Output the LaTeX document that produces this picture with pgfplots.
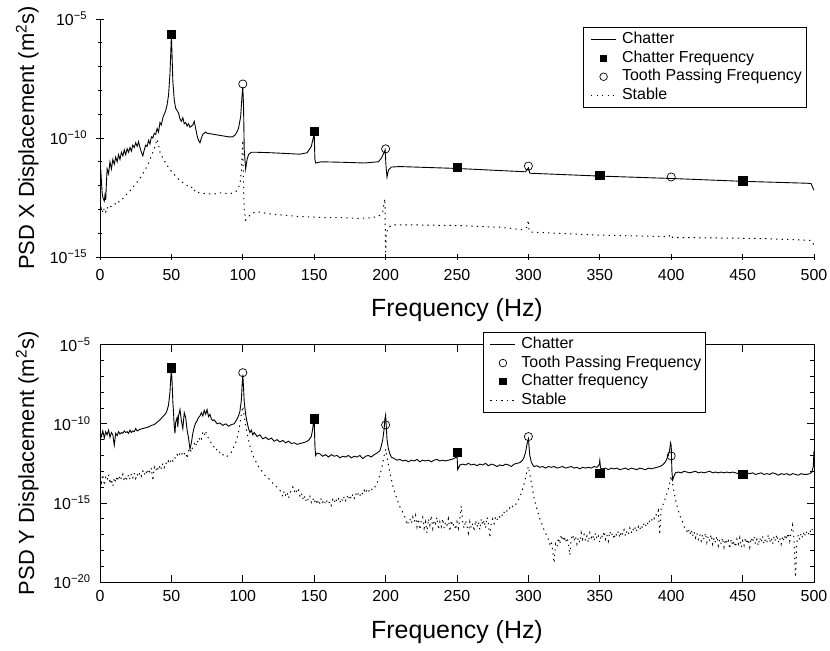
\documentclass[border=0pt]{standalone}
\usepackage{fontspec}
\setmainfont{Liberation Sans}
\usepackage{pgfplots}
\usepackage{pgfplotstable}
\pgfplotsset{compat=1.18}

% PSD values are stored as log10 of the spectral density (m^2 s)
% --- X direction, chatter ---
\pgfplotstableread[row sep=\\]{
f lg\\
0 -11.6\\ 0.5 -11.3\\ 1 -11.8\\ 1.5 -12.3\\ 2 -12.5\\ 3 -12.65\\ 3.5 -12.4\\ 4 -12.6\\ 4.5 -11.9\\ 5 -11.3\\
6 -11.5\\ 7 -11.0\\ 8 -11.3\\ 9 -10.9\\ 10 -11.1\\ 11 -10.8\\ 12 -11.0\\ 13 -10.7\\ 14 -10.9\\ 15 -10.6\\
16 -10.75\\ 17 -10.5\\ 18 -10.7\\ 19 -10.45\\ 20 -10.6\\ 21 -10.4\\ 22 -10.55\\ 23 -10.3\\ 24 -10.4\\ 25 -10.2\\
26 -10.35\\ 27 -10.15\\ 28 -10.4\\ 29 -10.6\\ 30 -10.75\\ 31 -10.5\\ 32 -10.3\\ 33 -10.35\\ 34 -10.1\\ 35 -10.25\\
36 -9.95\\ 37 -10.0\\ 38 -9.8\\ 39 -9.85\\ 40 -9.6\\ 41 -9.75\\ 42 -9.35\\ 43 -9.45\\ 44 -9.15\\ 45 -9.0\\
46 -8.85\\ 47 -8.6\\ 48 -8.2\\ 49 -7.3\\ 49.5 -6.5\\ 50 -5.7\\ 50.5 -6.6\\ 51 -7.6\\ 52 -8.4\\ 53 -8.75\\
54 -8.85\\ 55 -8.95\\ 56 -9.2\\ 57 -9.3\\ 58 -9.15\\ 59 -9.4\\ 60 -9.35\\ 61 -9.5\\ 62 -9.4\\ 63 -9.55\\
64 -9.5\\ 65 -9.45\\ 66 -9.3\\ 67 -9.6\\ 68 -9.9\\ 69 -10.1\\ 70 -10.2\\ 71 -10.0\\ 72 -9.85\\ 73 -9.8\\
74 -9.75\\ 75 -9.8\\ 80 -9.85\\ 85 -9.9\\ 90 -9.95\\ 93 -9.95\\ 95 -9.85\\ 97 -9.6\\ 98.5 -9.1\\ 99.5 -8.2\\
100 -7.85\\ 100.5 -8.6\\ 101 -10.5\\ 102 -11.3\\ 103 -10.9\\ 104 -10.7\\ 106 -10.6\\ 110 -10.6\\ 120 -10.62\\ 130 -10.65\\
140 -10.68\\ 145 -10.62\\ 148 -10.35\\ 149.5 -9.95\\ 150 -9.8\\ 150.5 -10.9\\ 151 -11.05\\ 155 -11.0\\ 170 -11.02\\ 185 -11.05\\
195 -11.0\\ 197 -10.85\\ 199 -10.6\\ 199.7 -10.5\\ 200.3 -11.2\\ 201 -11.65\\ 202 -11.35\\ 204 -11.22\\ 210 -11.2\\ 250 -11.28\\
298 -11.42\\ 300 -11.25\\ 301 -11.48\\ 350 -11.6\\ 400 -11.7\\ 450 -11.82\\ 495 -11.9\\ 498 -11.92\\ 500 -12.2\\
}\xchatter

% --- X direction, stable ---
\pgfplotstableread[row sep=\\]{
f lg\\
0 -13.2\\ 1 -12.9\\ 2 -13.15\\ 3 -12.95\\ 4 -13.1\\ 5 -12.9\\ 6 -13.0\\ 8 -12.85\\ 10 -12.75\\ 12 -12.8\\
14 -12.6\\ 16 -12.55\\ 18 -12.4\\ 20 -12.3\\ 22 -12.15\\ 24 -12.0\\ 26 -11.85\\ 28 -11.7\\ 30 -11.5\\ 32 -11.3\\
34 -11.05\\ 36 -10.75\\ 38 -10.45\\ 39 -10.25\\ 40 -10.05\\ 41 -10.3\\ 42 -10.6\\ 44 -10.85\\ 46 -11.05\\ 48 -11.25\\
50 -11.4\\ 53 -11.6\\ 56 -11.8\\ 60 -11.95\\ 63 -12.1\\ 65 -12.05\\ 67 -12.3\\ 70 -12.3\\ 75 -12.35\\ 80 -12.35\\
85 -12.3\\ 90 -12.35\\ 94 -12.3\\ 96 -12.2\\ 98 -11.95\\ 99 -11.4\\ 100 -10.1\\ 100.5 -12.0\\ 101 -13.0\\ 102 -13.45\\
104 -13.3\\ 107 -13.15\\ 110 -13.1\\ 120 -13.2\\ 130 -13.25\\ 140 -13.3\\ 150 -13.32\\ 160 -13.35\\ 170 -13.35\\ 180 -13.38\\
190 -13.35\\ 195 -13.3\\ 198 -13.1\\ 199.5 -12.55\\ 200 -14.8\\ 200.5 -14.0\\ 202 -13.75\\ 205 -13.65\\ 220 -13.65\\ 250 -13.68\\
280 -13.75\\ 295 -13.85\\ 299 -13.75\\ 300 -13.45\\ 300.5 -13.9\\ 302 -13.95\\ 320 -14.0\\ 350 -14.08\\ 380 -14.12\\ 398 -14.15\\
400 -14.05\\ 401 -14.18\\ 430 -14.2\\ 460 -14.22\\ 490 -14.28\\ 498 -14.3\\ 500 -14.5\\
}\xstable

% --- Y direction, chatter ---
\pgfplotstableread[row sep=\\]{
f lg\\
0 -10.5\\ 1 -10.8\\ 2 -10.45\\ 3 -10.9\\ 4 -10.5\\ 5 -10.7\\ 6 -10.4\\ 7 -10.85\\ 8 -10.55\\ 9 -10.7\\
10 -11.35\\ 11 -10.6\\ 12 -10.75\\ 13 -10.5\\ 14 -10.65\\ 15 -10.55\\ 16 -10.6\\ 17 -10.45\\ 18 -10.55\\ 19 -10.5\\
20 -10.6\\ 21 -10.4\\ 22 -10.55\\ 23 -10.45\\ 24 -10.5\\ 25 -10.3\\ 26 -10.45\\ 27 -10.4\\ 28 -10.35\\ 30 -10.3\\
32 -10.25\\ 34 -10.2\\ 36 -10.1\\ 38 -10.05\\ 40 -9.9\\ 42 -9.75\\ 44 -9.55\\ 46 -9.35\\ 47 -9.15\\ 48 -8.8\\
49 -8.0\\ 49.5 -7.2\\ 50 -6.55\\ 50.5 -7.4\\ 51 -8.6\\ 51.5 -9.3\\ 52 -10.2\\ 52.5 -10.6\\ 53 -9.9\\ 54 -9.6\\
54.5 -10.2\\ 55 -9.5\\ 56 -9.1\\ 57 -9.8\\ 58 -10.3\\ 59 -9.3\\ 60 -9.6\\ 61 -10.4\\ 62 -10.9\\ 63 -11.6\\
64 -11.2\\ 65 -10.6\\ 66 -10.2\\ 67 -9.95\\ 68 -9.8\\ 69 -9.6\\ 70 -9.5\\ 71 -9.3\\ 72 -9.5\\ 73 -9.15\\
74 -9.4\\ 75 -9.1\\ 76 -9.55\\ 77 -9.4\\ 78 -9.7\\ 79 -9.8\\ 80 -9.75\\ 82 -10.0\\ 84 -9.95\\ 86 -10.1\\
88 -10.0\\ 90 -10.15\\ 92 -10.05\\ 94 -10.0\\ 96 -9.7\\ 97 -9.5\\ 98 -9.2\\ 99 -8.5\\ 99.5 -7.6\\ 100 -6.9\\
100.5 -7.7\\ 101 -8.6\\ 102 -9.4\\ 103 -9.9\\ 104 -10.3\\ 105 -10.55\\ 106 -10.4\\ 107 -10.7\\ 108 -10.55\\ 110 -10.8\\
112 -10.7\\ 114 -10.95\\ 116 -10.85\\ 118 -11.0\\ 120 -10.9\\ 122 -11.1\\ 124 -11.0\\ 126 -11.15\\ 128 -11.05\\ 130 -11.2\\
132 -11.1\\ 134 -11.25\\ 136 -11.2\\ 138 -11.3\\ 140 -11.25\\ 142 -11.2\\ 144 -11.15\\ 146 -11.05\\ 148 -10.8\\ 149 -10.3\\
149.5 -9.9\\ 150 -9.7\\ 150.5 -11.4\\ 151 -12.0\\ 152 -11.85\\ 154 -11.9\\ 156 -12.05\\ 158 -11.95\\ 160 -12.1\\ 162 -11.95\\
164 -12.05\\ 166 -12.0\\ 168 -12.15\\ 170 -12.05\\ 172 -12.1\\ 174 -12.0\\ 176 -12.15\\ 178 -12.05\\ 180 -12.1\\ 182 -12.0\\
184 -12.2\\ 186 -12.05\\ 188 -12.0\\ 190 -12.1\\ 192 -11.95\\ 194 -11.85\\ 196 -11.7\\ 197 -11.4\\ 198 -11.0\\ 199 -10.3\\
199.5 -9.7\\ 200 -9.45\\ 200.5 -10.2\\ 201 -11.0\\ 202 -11.6\\ 203 -11.9\\ 204 -12.1\\ 206 -12.2\\ 208 -12.3\\ 210 -12.25\\
212 -12.35\\ 214 -12.3\\ 216 -12.4\\ 218 -12.3\\ 220 -12.35\\ 222 -12.25\\ 224 -12.4\\ 226 -12.3\\ 228 -12.35\\ 230 -12.3\\
232 -12.4\\ 234 -12.3\\ 236 -12.25\\ 238 -12.35\\ 240 -12.3\\ 242 -12.35\\ 244 -12.3\\ 246 -12.25\\ 248 -12.2\\ 249.5 -12.1\\
250 -11.95\\ 250.5 -12.9\\ 251 -12.8\\ 252 -12.6\\ 254 -12.55\\ 256 -12.6\\ 258 -12.5\\ 260 -12.6\\ 262 -12.55\\ 264 -12.65\\
266 -12.55\\ 268 -12.6\\ 270 -12.5\\ 272 -12.65\\ 274 -12.55\\ 276 -12.6\\ 278 -12.7\\ 280 -12.6\\ 282 -12.65\\ 284 -12.55\\
286 -12.6\\ 288 -12.7\\ 290 -12.55\\ 292 -12.5\\ 294 -12.45\\ 296 -12.3\\ 297 -12.1\\ 298 -11.8\\ 299 -11.3\\ 300 -10.95\\
300.5 -11.5\\ 301 -12.0\\ 302 -12.4\\ 303 -12.6\\ 304 -12.7\\ 306 -12.65\\ 308 -12.75\\ 310 -12.7\\ 312 -12.8\\ 314 -12.7\\
316 -12.75\\ 318 -12.7\\ 320 -12.8\\ 322 -12.75\\ 324 -12.7\\ 326 -12.8\\ 328 -12.75\\ 330 -12.7\\ 332 -12.8\\ 334 -12.75\\
336 -12.85\\ 338 -12.75\\ 340 -12.8\\ 342 -12.75\\ 344 -12.8\\ 346 -12.7\\ 348 -12.75\\ 349.5 -12.6\\ 350 -12.3\\ 350.5 -12.8\\
352 -12.85\\ 354 -12.8\\ 356 -12.9\\ 358 -12.8\\ 360 -12.85\\ 362 -12.8\\ 364 -12.9\\ 366 -12.85\\ 368 -12.8\\ 370 -12.9\\
372 -12.8\\ 374 -12.85\\ 376 -12.9\\ 378 -12.8\\ 380 -12.85\\ 382 -12.9\\ 384 -12.8\\ 386 -12.85\\ 388 -12.8\\ 390 -12.75\\
392 -12.7\\ 394 -12.6\\ 396 -12.4\\ 398 -12.0\\ 399 -11.6\\ 399.5 -11.2\\ 400 -11.35\\ 400.5 -13.0\\ 401 -13.55\\ 402 -13.3\\
403 -13.1\\ 405 -13.05\\ 407 -13.1\\ 409 -13.0\\ 411 -13.05\\ 413 -13.1\\ 415 -13.05\\ 417 -13.0\\ 419 -13.1\\ 421 -13.05\\
423 -13.1\\ 425 -13.05\\ 427 -13.0\\ 429 -13.1\\ 431 -13.05\\ 433 -13.1\\ 435 -13.05\\ 437 -13.1\\ 439 -13.05\\ 441 -13.1\\
443 -13.05\\ 445 -13.1\\ 447 -13.15\\ 449 -13.1\\ 451 -13.2\\ 453 -13.1\\ 455 -13.15\\ 457 -13.1\\ 459 -13.2\\ 461 -13.15\\
463 -13.1\\ 465 -13.2\\ 467 -13.15\\ 469 -13.2\\ 471 -13.1\\ 473 -13.15\\ 475 -13.25\\ 477 -13.15\\ 479 -13.2\\ 481 -13.15\\
483 -13.25\\ 485 -13.15\\ 487 -13.2\\ 489 -13.25\\ 491 -13.15\\ 493 -13.2\\ 495 -13.2\\ 497 -13.15\\ 498.5 -13.05\\ 499.5 -12.7\\
500 -11.7\\
}\ychatter

% --- Y direction, stable ---
\pgfplotstableread[row sep=\\]{
f lg\\
0 -13.3\\ 1 -13.7\\ 2 -13.2\\ 3 -13.9\\ 4 -13.4\\ 5 -13.6\\ 6 -13.2\\ 7 -13.8\\ 8 -13.5\\ 9 -13.95\\
10 -13.4\\ 11 -13.7\\ 12 -13.3\\ 13 -13.6\\ 14 -13.25\\ 15 -13.5\\ 16 -13.2\\ 17 -13.65\\ 18 -13.3\\ 19 -13.55\\
20 -13.2\\ 21 -13.5\\ 22 -13.15\\ 23 -13.4\\ 24 -13.1\\ 25 -13.45\\ 26 -13.15\\ 27 -13.35\\ 28 -13.05\\ 29 -13.3\\
30 -13.0\\ 31 -13.25\\ 32 -12.95\\ 33 -13.2\\ 34 -12.85\\ 35 -13.1\\ 36 -12.8\\ 37 -13.6\\ 38 -12.75\\ 39 -13.0\\
40 -12.7\\ 41 -12.95\\ 42 -12.6\\ 43 -12.85\\ 44 -12.5\\ 45 -12.75\\ 46 -12.45\\ 47 -12.6\\ 48 -12.35\\ 49 -12.5\\
50 -12.2\\ 51 -12.35\\ 52 -12.1\\ 53 -12.2\\ 54 -11.95\\ 55 -12.1\\ 56 -11.85\\ 57 -12.0\\ 58 -11.75\\ 59 -11.9\\
60 -11.8\\ 61 -12.2\\ 62 -11.7\\ 63 -11.55\\ 64 -11.8\\ 65 -11.4\\ 66 -11.25\\ 67 -11.45\\ 68 -11.05\\ 69 -11.2\\
70 -10.8\\ 71 -10.95\\ 72 -10.55\\ 73 -10.75\\ 74 -10.45\\ 75 -10.8\\ 76 -10.9\\ 77 -11.05\\ 78 -11.25\\ 79 -11.3\\
80 -11.5\\ 81 -11.45\\ 82 -11.7\\ 83 -11.65\\ 84 -11.85\\ 85 -11.8\\ 86 -11.95\\ 87 -12.0\\ 88 -11.95\\ 89 -12.05\\
90 -12.0\\ 91 -11.9\\ 92 -11.8\\ 93 -11.6\\ 94 -11.4\\ 95 -11.2\\ 96 -10.9\\ 97 -10.5\\ 98 -10.0\\ 99 -9.4\\
100 -8.9\\ 101 -9.5\\ 102 -10.1\\ 103 -10.6\\ 104 -11.0\\ 105 -11.4\\ 106 -11.7\\ 107 -11.95\\ 108 -12.2\\ 109 -12.35\\
110 -12.55\\ 111 -12.7\\ 112 -12.8\\ 113 -12.95\\ 114 -13.05\\ 115 -13.2\\ 116 -13.3\\ 117 -13.4\\ 118 -13.45\\ 119 -13.55\\
120 -13.65\\ 121 -13.75\\ 122 -13.8\\ 123 -13.95\\ 124 -14.0\\ 125 -14.1\\ 126 -14.2\\ 127 -14.35\\ 128 -14.6\\ 129 -14.25\\
130 -14.5\\ 131 -14.3\\ 132 -14.7\\ 133 -14.4\\ 134 -14.2\\ 135 -14.0\\ 136 -14.3\\ 137 -14.1\\ 138 -14.4\\ 139 -14.2\\
140 -14.55\\ 141 -14.35\\ 142 -14.75\\ 143 -14.5\\ 144 -14.9\\ 145 -14.65\\ 146 -14.85\\ 147 -14.6\\ 148 -14.95\\ 149 -14.7\\
150 -15.0\\ 151 -14.75\\ 152 -15.1\\ 153 -14.8\\ 154 -15.05\\ 155 -14.7\\ 156 -14.95\\ 157 -14.8\\ 158 -15.1\\ 159 -14.85\\
160 -15.05\\ 161 -14.9\\ 162 -15.15\\ 163 -14.8\\ 164 -15.0\\ 165 -14.7\\ 166 -14.95\\ 167 -14.75\\ 168 -15.0\\ 169 -14.7\\
170 -14.9\\ 171 -14.6\\ 172 -14.85\\ 173 -14.55\\ 174 -14.8\\ 175 -14.5\\ 176 -14.75\\ 177 -14.45\\ 178 -14.7\\ 179 -14.4\\
180 -14.6\\ 181 -14.35\\ 182 -14.55\\ 183 -14.3\\ 184 -14.45\\ 185 -14.2\\ 186 -14.4\\ 187 -14.15\\ 188 -14.3\\ 189 -14.1\\
190 -14.2\\ 191 -14.05\\ 192 -14.1\\ 193 -13.9\\ 194 -13.75\\ 195 -13.5\\ 196 -13.25\\ 197 -12.9\\ 198 -12.5\\ 199 -12.0\\
200 -11.6\\ 201 -12.1\\ 202 -12.6\\ 203 -13.1\\ 204 -13.5\\ 205 -13.9\\ 206 -14.2\\ 207 -14.5\\ 208 -14.75\\ 209 -15.0\\
210 -15.25\\ 211 -15.4\\ 212 -15.6\\ 213 -15.8\\ 214 -16.0\\ 215 -16.4\\ 216 -16.2\\ 217 -16.0\\ 218 -16.3\\ 219 -15.9\\
220 -16.2\\ 221 -15.8\\ 222 -16.5\\ 223 -16.0\\ 224 -16.7\\ 225 -16.1\\ 226 -15.9\\ 227 -16.6\\ 228 -16.2\\ 229 -16.9\\
230 -16.0\\ 231 -16.4\\ 232 -15.8\\ 233 -16.6\\ 234 -16.1\\ 235 -16.3\\ 236 -15.9\\ 237 -16.7\\ 238 -16.2\\ 239 -16.5\\
240 -16.0\\ 241 -16.6\\ 242 -16.2\\ 243 -16.4\\ 244 -16.0\\ 245 -16.8\\ 246 -16.1\\ 247 -16.5\\ 248 -16.3\\ 249 -16.7\\
250 -16.2\\ 251 -16.6\\ 252 -16.0\\ 253 -15.2\\ 254 -16.3\\ 255 -16.6\\ 256 -16.1\\ 257 -16.5\\ 258 -16.9\\ 259 -16.2\\
260 -16.6\\ 261 -16.3\\ 262 -16.8\\ 263 -16.1\\ 264 -16.5\\ 265 -16.2\\ 266 -16.7\\ 267 -16.0\\ 268 -16.4\\ 269 -16.1\\
270 -16.6\\ 271 -15.9\\ 272 -16.3\\ 273 -17.2\\ 274 -16.2\\ 275 -16.0\\ 276 -16.3\\ 277 -15.9\\ 278 -16.1\\ 279 -15.8\\
280 -15.9\\ 281 -15.7\\ 282 -15.85\\ 283 -15.6\\ 284 -15.7\\ 285 -15.5\\ 286 -15.55\\ 287 -15.3\\ 288 -15.4\\ 289 -15.2\\
290 -15.1\\ 291 -15.15\\ 292 -14.9\\ 293 -14.8\\ 294 -14.6\\ 295 -14.4\\ 296 -14.1\\ 297 -13.8\\ 298 -13.4\\ 299 -13.0\\
300 -12.7\\ 301 -13.2\\ 302 -13.7\\ 303 -14.2\\ 304 -14.7\\ 305 -15.1\\ 306 -15.4\\ 307 -15.7\\ 308 -16.0\\ 309 -16.2\\
310 -16.5\\ 311 -16.7\\ 312 -16.9\\ 313 -17.1\\ 314 -17.3\\ 315 -17.6\\ 316 -17.4\\ 317 -18.0\\ 318 -18.8\\ 319 -17.6\\
320 -17.8\\ 321 -17.2\\ 322 -17.6\\ 323 -17.0\\ 324 -17.4\\ 325 -17.1\\ 326 -17.5\\ 327 -17.2\\ 328 -17.6\\ 329 -18.3\\
330 -17.3\\ 331 -17.0\\ 332 -17.4\\ 333 -17.1\\ 334 -17.6\\ 335 -17.2\\ 336 -17.5\\ 337 -16.9\\ 338 -17.3\\ 339 -17.0\\
340 -17.4\\ 341 -17.1\\ 342 -17.5\\ 343 -16.9\\ 344 -17.2\\ 345 -17.0\\ 346 -17.4\\ 347 -16.9\\ 348 -17.3\\ 349 -17.1\\
350 -17.5\\ 351 -17.0\\ 352 -17.2\\ 353 -16.8\\ 354 -17.3\\ 355 -17.0\\ 356 -17.4\\ 357 -16.8\\ 358 -17.1\\ 359 -16.9\\
360 -17.3\\ 361 -16.9\\ 362 -17.1\\ 363 -16.8\\ 364 -17.2\\ 365 -16.8\\ 366 -17.0\\ 367 -16.7\\ 368 -17.1\\ 369 -16.8\\
370 -17.0\\ 371 -16.6\\ 372 -16.9\\ 373 -16.6\\ 374 -16.8\\ 375 -16.5\\ 376 -16.8\\ 377 -16.5\\ 378 -16.7\\ 379 -16.4\\
380 -16.6\\ 381 -16.3\\ 382 -16.5\\ 383 -16.2\\ 384 -16.4\\ 385 -16.1\\ 386 -16.2\\ 387 -15.9\\ 388 -16.0\\ 389 -15.7\\
390 -15.8\\ 391 -15.5\\ 392 -17.0\\ 393 -15.3\\ 394 -15.2\\ 395 -14.9\\ 396 -14.7\\ 397 -14.4\\ 398 -14.1\\ 399 -13.7\\
400 -13.3\\ 401 -13.8\\ 402 -14.3\\ 403 -14.8\\ 404 -15.2\\ 405 -15.5\\ 406 -15.8\\ 407 -16.0\\ 408 -16.2\\ 409 -16.5\\
410 -16.6\\ 411 -16.8\\ 412 -16.6\\ 413 -17.0\\ 414 -16.7\\ 415 -17.1\\ 416 -16.8\\ 417 -17.2\\ 418 -16.9\\ 419 -17.3\\
420 -17.0\\ 421 -17.4\\ 422 -17.0\\ 423 -17.3\\ 424 -16.9\\ 425 -17.5\\ 426 -17.1\\ 427 -17.4\\ 428 -17.0\\ 429 -17.6\\
430 -17.2\\ 431 -17.5\\ 432 -17.1\\ 433 -17.7\\ 434 -17.3\\ 435 -17.6\\ 436 -17.2\\ 437 -17.8\\ 438 -17.3\\ 439 -17.6\\
440 -17.4\\ 441 -17.9\\ 442 -17.3\\ 443 -17.7\\ 444 -17.4\\ 445 -17.8\\ 446 -17.3\\ 447 -17.6\\ 448 -17.2\\ 449 -17.8\\
450 -17.4\\ 451 -17.7\\ 452 -17.2\\ 453 -17.6\\ 454 -17.3\\ 455 -17.8\\ 456 -17.2\\ 457 -17.5\\ 458 -17.1\\ 459 -17.6\\
460 -17.3\\ 461 -17.7\\ 462 -17.2\\ 463 -17.5\\ 464 -17.1\\ 465 -17.6\\ 466 -17.3\\ 467 -17.5\\ 468 -17.0\\ 469 -17.5\\
470 -17.2\\ 471 -17.6\\ 472 -17.1\\ 473 -17.4\\ 474 -17.0\\ 475 -17.5\\ 476 -17.2\\ 477 -17.6\\ 478 -17.1\\ 479 -17.4\\
480 -17.0\\ 481 -17.3\\ 482 -16.9\\ 483 -17.4\\ 484 -16.8\\ 485 -16.4\\ 486 -17.3\\ 487 -19.7\\ 488 -17.5\\ 489 -17.0\\
490 -17.3\\ 491 -16.9\\ 492 -17.2\\ 493 -16.8\\ 494 -17.1\\ 495 -16.8\\ 496 -17.0\\ 497 -16.7\\ 498 -16.9\\ 499 -16.6\\
500 -16.5\\
}\ystable

% shared look of both panels
\pgfplotsset{
  every axis/.append style={
    scale only axis,
    width=714bp,
    xmin=0, xmax=500,
    xtick={0,50,...,500},
    tick align=inside,
    major tick length=7bp,
    minor tick length=4bp,
    axis line style={line width=0.9bp},
    tick style={line width=0.8bp, black},
    tick label style={font=\fontsize{16}{19}\selectfont},
    xticklabel style={yshift=-5bp},
    yticklabel style={xshift=-6bp},
    /pgf/number format/assume math mode=true,
    xlabel style={font=\fontsize{25}{30}\selectfont, anchor=center},
    ylabel style={font=\fontsize{22}{26}\selectfont, anchor=center,
                  at={(axis description cs:-0.102,0.5)}},
    legend cell align=left,
    legend style={font=\fontsize{16}{19}\selectfont, draw=black,
                  line width=0.8bp, fill=white, inner sep=3bp,
                  row sep=0bp, column sep=4bp,
                  nodes={inner sep=1.5bp, text height=12bp, text depth=3.5bp}},
  },
  % legend sample: 25bp long, with a little room on its left
  legend image code/.code={%
    \path (-4bp,0bp);
    \draw[mark repeat=2,mark phase=2,#1]
      plot coordinates {(0bp,0bp) (12.5bp,0bp) (25bp,0bp)};},
  chat/.style={black, line width=0.9bp, mark=none},
  stab/.style={black, line width=1bp, mark=none, dash pattern=on 1.3bp off 4.2bp},
  cfreq/.style={only marks, mark=square*, mark size=4.2bp,
                mark options={solid, fill=black, draw=black},
                legend image post style={mark size=3.3bp}},
  tfreq/.style={only marks, mark=o, mark size=4.1bp,
                mark options={solid, draw=black, line width=0.7bp},
                legend image post style={mark size=3.8bp}},
}

\begin{document}
\begin{tikzpicture}
\useasboundingbox (0,0) rectangle (830bp,651bp);

% ---------------- X displacement ----------------
\begin{axis}[
  at={(100bp,394bp)}, anchor=south west,
  height=238bp,
  ymode=log,
  ymin=1e-15, ymax=1e-5,
  axis lines=left,
  axis line style={-},
  ytick={1e-15,1e-10,1e-5},
  yticklabels={10\textsuperscript{−15},10\textsuperscript{−10},10\textsuperscript{−5}},
  minor ytick={1e-14,1e-13,1e-12,1e-11,1e-9,1e-8,1e-7,1e-6},
  xlabel={Frequency (Hz)},
  xlabel style={at={(axis description cs:0.5,-0.2227)}},
  ylabel={PSD X Displacement (m\textsuperscript{2}s)},
  legend style={at={(0.990,0.966)}, anchor=north east},
]
\addplot[chat] table[x=f, y expr={10^(\thisrow{lg})}] {\xchatter};
\addlegendentry{Chatter}
\addplot[cfreq] coordinates {(50,2.34e-6) (150,1.95e-10) (250,6.0e-12) (350,2.8e-12) (450,1.6e-12)};
\addlegendentry{Chatter Frequency}
\addplot[tfreq] coordinates {(100,1.86e-8) (200,3.5e-11) (300,6.6e-12) (400,2.3e-12)};
\addlegendentry{Tooth Passing Frequency}
\addplot[stab] table[x=f, y expr={10^(\thisrow{lg})}] {\xstable};
\addlegendentry{Stable}
\end{axis}

% ---------------- Y displacement ----------------
\begin{axis}[
  at={(100bp,69bp)}, anchor=south west,
  height=237.3bp,
  ymode=log,
  ymin=1e-20, ymax=1e-5,
  tick pos=both,
  ytick={1e-20,1e-15,1e-10,1e-5},
  yticklabels={10\textsuperscript{−20},10\textsuperscript{−15},10\textsuperscript{−10},10\textsuperscript{−5}},
  minor ytick={1e-19,1e-18,1e-17,1e-16,1e-14,1e-13,1e-12,1e-11,1e-9,1e-8,1e-7,1e-6},
  xlabel={Frequency (Hz)},
  xlabel style={at={(axis description cs:0.5,-0.2107)}},
  ylabel={PSD Y Displacement (m\textsuperscript{2}s)},
  legend style={at={(0.849,1.054)}, anchor=north east},
]
\addplot[chat] table[x=f, y expr={10^(\thisrow{lg})}] {\ychatter};
\addlegendentry{Chatter}
\addplot[tfreq] coordinates {(100,1.7e-7) (200,8.5e-11) (300,1.55e-11) (400,9.3e-13)};
\addlegendentry{Tooth Passing Frequency}
\addplot[cfreq] coordinates {(50,3.5e-7) (150,2.1e-10) (250,1.6e-12) (350,7.4e-14) (450,6.5e-14)};
\addlegendentry{Chatter frequency}
\addplot[stab] table[x=f, y expr={10^(\thisrow{lg})}] {\ystable};
\addlegendentry{Stable}
\end{axis}
\end{tikzpicture}
\end{document}
